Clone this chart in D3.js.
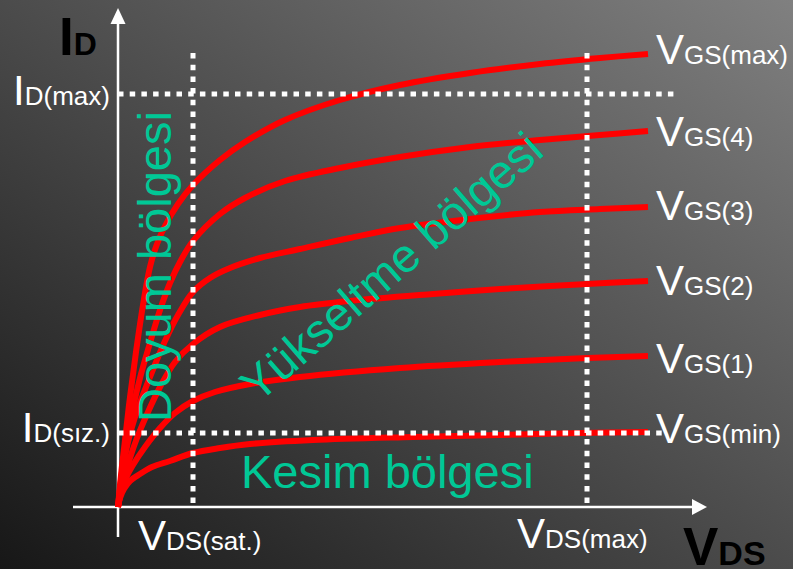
<!DOCTYPE html>
<html><head><meta charset="utf-8">
<script src="https://cdn.jsdelivr.net/npm/d3@7/dist/d3.min.js"></script>
<style>html,body{margin:0;padding:0;background:#333}svg{display:block}</style>
</head><body>
<script>
// ---- data (arbitrary units: V_DS → x, I_D → y) ----
const seriesNames = ["VGS(max)", "VGS(4)", "VGS(3)", "VGS(2)", "VGS(1)", "VGS(min)"];
const vgsMax = [[0,0],[3,32],[7,67],[12,110],[18,155],[25,202],[32,240],[39,263],[47,281],[60,303],[75,322],[102,347],[127,365],[167,387],[222,407],[282,422],[352,434],[422,443],[482,449],[530,453]];
const vgs4   = [[0,0],[4,35],[9,67],[15,99],[22,129],[32,164],[42,197],[52,224],[62,245],[75,266],[102,293],[127,309],[167,326],[222,339],[282,350],[352,360],[422,367],[482,372],[530,376]];
const vgs3   = [[0,0],[4,32],[10,65],[19,96],[32,130],[47,166],[60,192],[75,215],[92,229],[112,239],[142,249],[182,258],[232,269],[282,279],[352,288],[422,295],[482,298],[530,300]];
const vgs2   = [[0,0],[5,25],[12,49],[19,69],[30,95],[42,120],[57,145],[75,163],[102,180],[142,192],[182,200],[232,206],[315,213],[382,218],[469,223],[530,226]];
const vgs1   = [[0,0],[3,15],[8,29],[15,42],[27,60],[42,79],[57,94],[75,106],[97,115],[132,123],[182,130],[282,139],[382,145],[469,149],[530,151]];
const vgsMin = [[0,0],[2,9],[6,18],[12,26],[22,33],[34,40],[52,46],[75,54],[102,59],[132,63],[195,67],[295,70],[382,72],[462,74],[530,75]];
const allSeries = [vgsMax, vgs4, vgs3, vgs2, vgs1, vgsMin];

// reference levels
const idMax = 413, idSiz = 74;         // I_D(max), I_D(sız.)
const vdsSat = 75, vdsMax = 469;        // V_DS(sat.), V_DS(max)
const refTop = 454, refBottom = 4;      // extent of vertical guides
const idMaxEnd = 557, idSizEnd = 547;   // extent of horizontal guides

// axis labels
const yTickLabels = [{main:"I", sub:"D(max)", v:idMax}, {main:"I", sub:"D(sız.)", v:idSiz}];
const xTickLabels = [{main:"V", sub:"DS(sat.)", v:vdsSat}, {main:"V", sub:"DS(max)", v:vdsMax}];
const regionLabels = ["Doyum bölgesi", "Yükseltme bölgesi", "Kesim bölgesi"];

// ---- layout ----
const W = 793, H = 569;
const x = d3.scaleLinear().domain([0, 588]).range([118, 706]);
const y = d3.scaleLinear().domain([0, 498]).range([507, 9]);
const seriesLabelBaselines = [64, 146, 220, 295, 373, 443];
const yLabelOffsets = [11, 9];
const xLabelPos = [[138, 550], [517, 548]];
const FONT = "'Liberation Sans', Arial, Helvetica, sans-serif";

const svg = d3.select("body").append("svg").attr("width", W).attr("height", H);
const defs = svg.append("defs");
const g = defs.append("linearGradient").attr("id", "bg")
  .attr("x1", 0).attr("y1", 1).attr("x2", 1).attr("y2", 0);
g.append("stop").attr("offset", "0%").attr("stop-color", "#171717");
g.append("stop").attr("offset", "100%").attr("stop-color", "#808080");
svg.append("rect").attr("width", W).attr("height", H).attr("fill", "url(#bg)");

// axes
svg.append("line").attr("x1", x(-45)).attr("x2", x(574)).attr("y1", y(0)).attr("y2", y(0))
  .attr("stroke", "#fff").attr("stroke-width", 2.5);
svg.append("line").attr("x1", x(0)).attr("x2", x(0)).attr("y1", y(-30)).attr("y2", y(484))
  .attr("stroke", "#fff").attr("stroke-width", 2.5);
svg.append("path").attr("fill", "#fff")
  .attr("d", `M${x(589)},${y(0)} L${x(574)},${y(0)-8} L${x(574)},${y(0)+8} Z`);
svg.append("path").attr("fill", "#fff")
  .attr("d", `M${x(0)},${y(499)} L${x(0)-7.5},${y(483)} L${x(0)+7.5},${y(483)} Z`);

// curves
const line = d3.line().x(d => x(d[0])).y(d => y(d[1])).curve(d3.curveCatmullRom.alpha(0.5));
svg.append("g").selectAll("path").data(allSeries).join("path")
  .attr("d", line).attr("fill", "none").attr("stroke", "#ff0000")
  .attr("stroke-width", 6).attr("stroke-linejoin", "round").attr("stroke-linecap", "butt");

// dotted guides
const dots = svg.append("g").attr("stroke", "#fff").attr("stroke-width", 5).attr("stroke-dasharray", "5.5,6.2");
[vdsSat, vdsMax].forEach(v => dots.append("line").attr("x1", x(v)).attr("x2", x(v)).attr("y1", y(refTop)).attr("y2", y(refBottom)));
dots.append("line").attr("x1", x(0)).attr("x2", x(idMaxEnd)).attr("y1", y(idMax)).attr("y2", y(idMax));
dots.append("line").attr("x1", x(0)).attr("x2", x(idSizEnd)).attr("y1", y(idSiz)).attr("y2", y(idSiz));

// region labels
const green = "#00c896";
svg.append("text").attr("transform", "translate(171,422) rotate(-90)")
  .attr("font-family", FONT).attr("font-size", 47).attr("fill", green).text(regionLabels[0]);
svg.append("text").attr("transform", "translate(402,279) rotate(-41)").attr("text-anchor", "middle")
  .attr("font-family", FONT).attr("font-size", 47).attr("fill", green).text(regionLabels[1]);
svg.append("text").attr("x", 241).attr("y", 488)
  .attr("font-family", FONT).attr("font-size", 47).attr("fill", green).text(regionLabels[2]);

// two-size labels
function twoPart(sel, main, sub, bigSize, smallSize) {
  sel.append("tspan").attr("font-size", bigSize).text(main);
  sel.append("tspan").attr("font-size", smallSize).text(sub);
}
seriesNames.forEach((n, i) => {
  const t = svg.append("text").attr("x", 656).attr("y", seriesLabelBaselines[i])
    .attr("font-family", FONT).attr("fill", "#fff");
  twoPart(t, n[0], n.slice(1), 42, 26);
});
yTickLabels.forEach((d, i) => {
  const t = svg.append("text").attr("x", x(0) - 8).attr("y", y(d.v) + yLabelOffsets[i])
    .attr("text-anchor", "end").attr("font-family", FONT).attr("fill", "#fff");
  twoPart(t, d.main, d.sub, 42, 26);
});
xTickLabels.forEach((d, i) => {
  const t = svg.append("text").attr("x", xLabelPos[i][0]).attr("y", xLabelPos[i][1])
    .attr("font-family", FONT).attr("fill", "#fff");
  twoPart(t, d.main, d.sub, 42, 26);
});

// axis titles
const tID = svg.append("text").attr("x", 59).attr("y", 55).attr("font-family", FONT)
  .attr("font-weight", "bold").attr("fill", "#000");
twoPart(tID, "I", "D", 53, 32);
const tVDS = svg.append("text").attr("x", 683).attr("y", 565).attr("font-family", FONT)
  .attr("font-weight", "bold").attr("fill", "#000");
twoPart(tVDS, "V", "DS", 53, 34);
</script>
</body></html>
